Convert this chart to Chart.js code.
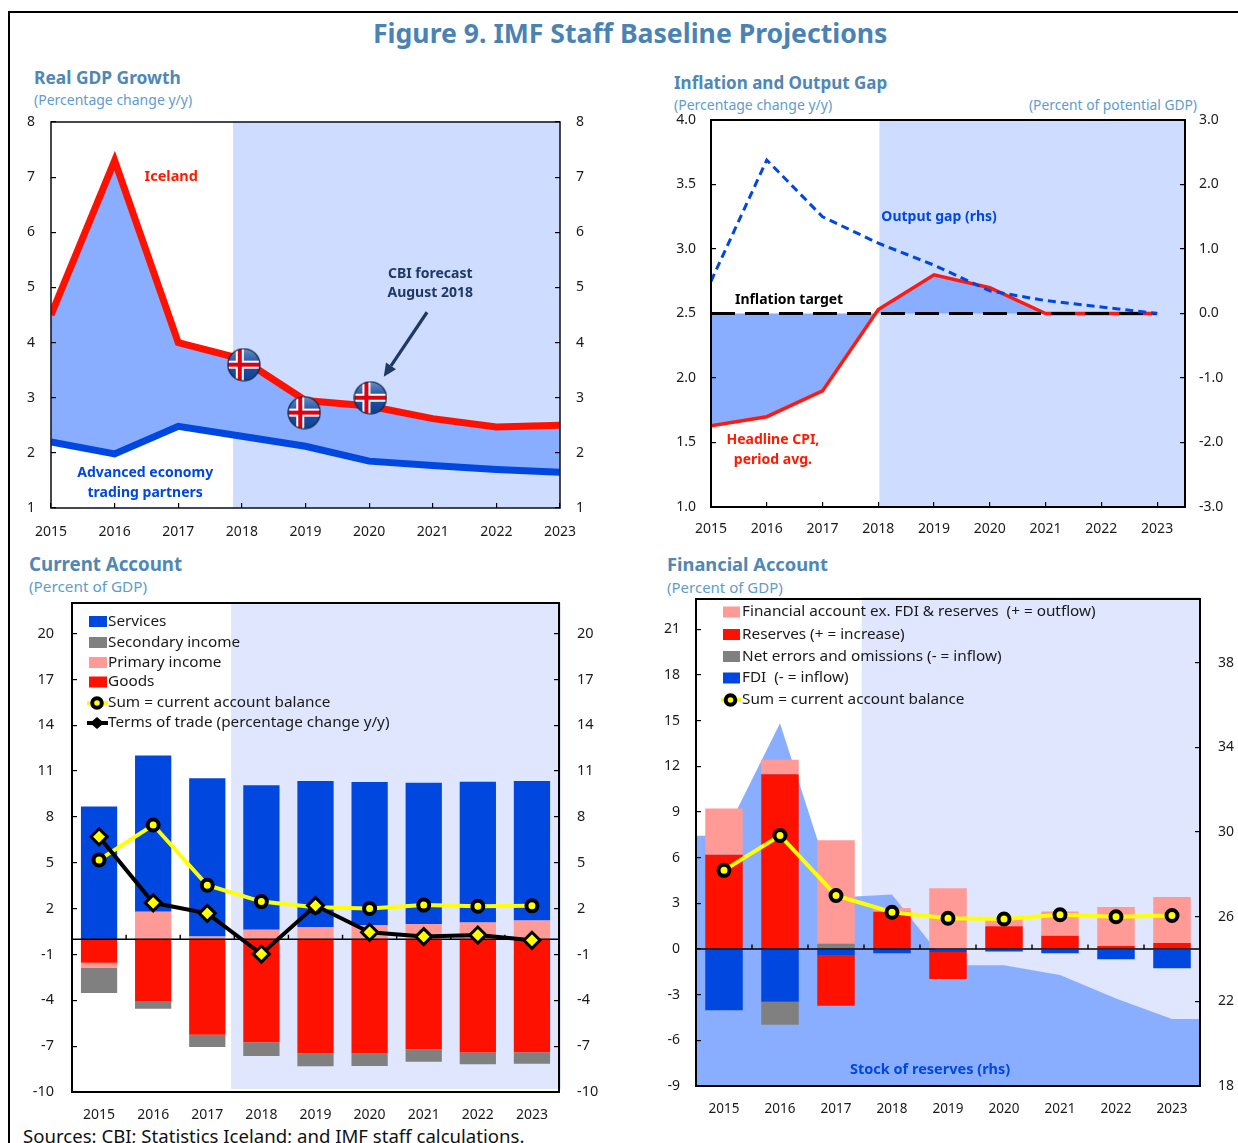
<!DOCTYPE html>
<html><head><meta charset="utf-8">
<script src="https://cdn.jsdelivr.net/npm/chart.js@4"></script>
<style>
html,body{margin:0;padding:0;background:#fff;width:1238px;height:1143px;overflow:hidden}
body{position:relative;font-family:"Noto Sans",sans-serif}
canvas{position:absolute}
.frame{position:absolute;left:8px;top:11px;width:1240px;height:1200px;border-left:2px solid #000;border-top:2px solid #000}
.t{position:absolute;white-space:nowrap;line-height:1;transform:translateY(-50%)}
.main{font-size:26.6px;font-weight:700;color:#4a83b3;left:373px;top:33px}
.h{font-weight:700;color:#4f87b5}
.s{color:#5f9ccc}
.src{font-size:18.6px;color:#111;left:23px;top:1136px}
</style></head><body>
<div class="frame"></div>
<div class="t main">Figure 9. IMF Staff Baseline Projections</div>
<div class="t h" style="left:34px;top:78px;font-size:17.4px">Real GDP Growth</div>
<div class="t s" style="left:34px;top:100px;font-size:14px">(Percentage change y/y)</div>
<div class="t h" style="left:674px;top:82px;font-size:17px">Inflation and Output Gap</div>
<div class="t s" style="left:674px;top:105px;font-size:14px">(Percentage change y/y)</div>
<div class="t s" style="right:41px;top:105px;font-size:13.8px">(Percent of potential GDP)</div>
<div class="t h" style="left:29px;top:564px;font-size:18.7px">Current Account</div>
<div class="t s" style="left:29px;top:587px;font-size:15.3px">(Percent of GDP)</div>
<div class="t h" style="left:667px;top:564px;font-size:18.3px">Financial Account</div>
<div class="t s" style="left:667px;top:587px;font-size:15px">(Percent of GDP)</div>
<div class="t src">Sources: CBI; Statistics Iceland; and IMF staff calculations.</div>
<canvas id="c1"></canvas><canvas id="c2"></canvas><canvas id="c3"></canvas><canvas id="c4"></canvas>
<script>
// ---------- data ----------
const years = [2015,2016,2017,2018,2019,2020,2021,2022,2023];
const yearLabels = ["2015","2016","2017","2018","2019","2020","2021","2022","2023"];

const gdpIceland = [4.5,7.3,4.0,3.7,2.95,2.85,2.62,2.47,2.5];
const gdpPartners = [2.2,1.98,2.48,2.3,2.12,1.85,1.77,1.7,1.65];
const cbiYears = [2018.03,2018.98,2020.02];
const cbiForecast = [3.6,2.73,3.0];
const gdpTicks = [1,2,3,4,5,6,7,8];

const cpi = [1.63,1.7,1.9,2.53,2.8,2.7,2.5,2.5,2.5];
const inflationTarget = [2.5,2.5,2.5,2.5,2.5,2.5,2.5,2.5,2.5];
const outputGap = [0.5,2.38,1.5,1.09,0.75,0.35,0.2,0.1,0.0];
const inflTicks = [1,1.5,2,2.5,3,3.5,4];
const gapTicks = [-3,-2,-1,0,1,2,3];

const caServices = [8.69,10.23,10.36,9.46,9.55,9.36,9.24,9.21,9.13];
const caSecondary = [-1.66,-0.5,-0.8,-0.9,-0.85,-0.83,-0.82,-0.77,-0.75];
const caPrimary = [-0.32,1.79,0.17,0.62,0.8,0.92,0.99,1.09,1.22];
const caGoods = [-1.54,-4.05,-6.26,-6.75,-7.47,-7.47,-7.2,-7.42,-7.4];
const caSum = [5.19,7.47,3.53,2.46,2.09,2.01,2.23,2.16,2.18];
const termsOfTrade = [6.7,2.38,1.69,-0.97,2.2,0.45,0.17,0.27,-0.07];
const caTicks = [-10,-7,-4,-1,2,5,8,11,14,17,20];
const caLegend = ["Services","Secondary income","Primary income","Goods","Sum = current account balance","Terms of trade (percentage change y/y)"];

const faOther = [3.05,0.95,6.79,0.25,3.99,0.5,1.6,2.57,3.02];
const faReserves = [6.19,11.48,-3.32,2.45,-1.77,1.5,0.87,0.2,0.4];
const faErrors = [0,-1.5,0.35,0,0,0,0,0,0];
const faFdi = [-4.02,-3.47,-0.4,-0.27,-0.2,-0.17,-0.27,-0.67,-1.27];
const faSum = [5.17,7.46,3.52,2.42,2.02,1.97,2.25,2.12,2.2];
const reserveYears = [2014.5,2015,2016,2017,2018,2019,2020,2021,2022,2023,2023.5];
const reserveStock = [29.82,29.82,35.13,26.9,27.05,23.7,23.7,23.24,22.13,21.17,21.17];
const faTicks = [-9,-6,-3,0,3,6,9,12,15,18,21];
const stockTicks = [18,22,26,30,34,38];
const faLegend = ["Financial account ex. FDI & reserves  (+ = outflow)","Reserves (+ = increase)","Net errors and omissions (- = inflow)","FDI  (- = inflow)","Sum = current account balance"];

// ---------- styles ----------
const FONT = '"Noto Sans", sans-serif';
const RED='#ff1100', BLUE='#0047e0', PINK='#ff9a96', GREY='#808080', AREA='#8aaeff', YEL='#ffff00';
const INK='#1a1a1a', NAVY='#1f3864', SHADE_A='#cddcff', SHADE_B='#dfe6fd';
Chart.defaults.font.family = FONT;
Chart.defaults.color = INK;

function flag(){
  const c=document.createElement('canvas'); c.width=34;c.height=34;
  const g=c.getContext('2d');
  g.save(); g.beginPath(); g.arc(17,17,16,0,Math.PI*2); g.clip();
  const gr=g.createLinearGradient(0,0,0,34); gr.addColorStop(0,'#6f8fc4'); gr.addColorStop(.45,'#1e55a8'); gr.addColorStop(1,'#0f3f8f');
  g.fillStyle=gr; g.fillRect(0,0,34,34);
  g.fillStyle='#fff'; g.fillRect(0,13,34,8); g.fillRect(9,0,8,34);
  g.fillStyle='#e00010'; g.fillRect(0,15,34,4); g.fillRect(11,0,4,34);
  g.restore();
  g.beginPath(); g.arc(17,17,16,0,Math.PI*2); g.strokeStyle='#0b1f40'; g.lineWidth=1.2; g.stroke();
  return c;
}

// ---------- plugins ----------
const shadePlugin={id:'shade',beforeDatasetsDraw(ch,a,o){
  const x=ch.scales[o.xScale||'x'],y=ch.scales.y,A=ch.chartArea,c=ch.ctx;
  const x0=x.getPixelForValue(o.from), t=A.top-(o.padTop||0), b=o.bottom!==undefined?y.getPixelForValue(o.bottom):A.bottom;
  c.save();c.fillStyle=o.color;c.fillRect(x0,t,A.right+(o.padRight||0)-x0,b-t);c.restore();
}};
const framePlugin={id:'frame',afterDatasetsDraw(ch,a,o){
  const A=ch.chartArea,c=ch.ctx;c.save();c.strokeStyle=o.color||'#000';c.lineWidth=o.width||2;
  c.strokeRect(A.left,A.top,A.right-A.left,A.bottom-A.top);c.restore();
}};
const notesPlugin={id:'notes',afterDatasetsDraw(ch,a,o){
  const c=ch.ctx;c.save();c.textAlign='center';c.textBaseline='middle';
  (o.items||[]).forEach(n=>{
    c.font='700 '+n.size+'px '+FONT;c.fillStyle=n.color;
    c.fillText(n.text,ch.scales[n.xs||'x'].getPixelForValue(n.x),ch.scales.y.getPixelForValue(n.y));
  });
  if(o.arrow){
    const [x1,y1,x2,y2]=o.arrow,X=ch.scales.x,Y=ch.scales.y;
    const px1=X.getPixelForValue(x1),py1=Y.getPixelForValue(y1),px2=X.getPixelForValue(x2),py2=Y.getPixelForValue(y2);
    const ang=Math.atan2(py2-py1,px2-px1),L=13,W=6;
    const bx=px2-L*Math.cos(ang),by=py2-L*Math.sin(ang);
    c.strokeStyle=NAVY;c.fillStyle=NAVY;c.lineWidth=3.2;
    c.beginPath();c.moveTo(px1,py1);c.lineTo(bx,by);c.stroke();
    c.beginPath();c.moveTo(px2,py2);c.lineTo(bx-W*Math.sin(ang),by+W*Math.cos(ang));c.lineTo(bx+W*Math.sin(ang),by-W*Math.cos(ang));c.closePath();c.fill();
  }
  c.restore();
}};
const zeroPlugin={id:'zeroLine',beforeDatasetDraw(ch,a,o){
  if(a.index!==o.before) return;
  const c=ch.ctx,X=ch.scales.x,Y=ch.scales.y,A=ch.chartArea,y0=Y.getPixelForValue(0);
  c.save();c.strokeStyle='#000';c.lineWidth=1.4;c.beginPath();c.moveTo(A.left,y0);c.lineTo(A.right,y0);
  for(let i=0;i<X.ticks.length-1;i++){const px=X.getPixelForValue(i+.5);c.moveTo(px,y0);c.lineTo(px,y0-4.5);}
  c.stroke();c.restore();
}};
const legendPlugin={id:'sideLegend',afterDatasetsDraw(ch,a,o){
  const c=ch.ctx,cv=ch.canvas,ox=parseFloat(cv.style.left),oy=parseFloat(cv.style.top);
  c.save();c.font=o.size+'px '+FONT;c.textBaseline='middle';c.textAlign='left';
  o.rows.forEach((r,i)=>{
    const y=o.ys[i]-oy,sx=o.swatchX-ox;
    if(r.kind==='box'){c.fillStyle=r.color;c.fillRect(sx,y-5.5,o.swatchW,11);}
    else{
      c.strokeStyle=r.color;c.lineWidth=r.lw;c.beginPath();c.moveTo(sx-2,y);c.lineTo(sx+o.swatchW+1,y);c.stroke();
      const mx=sx+o.swatchW/2-1;
      if(r.kind==='sum'){
        c.beginPath();c.arc(mx,y,4.8,0,Math.PI*2);c.fillStyle=YEL;c.fill();c.strokeStyle='#000';c.lineWidth=4;c.stroke();
      }else{
        c.beginPath();c.moveTo(mx-7,y);c.lineTo(mx,y-6);c.lineTo(mx+7,y);c.lineTo(mx,y+6);c.closePath();c.fillStyle='#000';c.fill();
      }
    }
    c.fillStyle=INK;c.fillText(o.labels[i],o.textX-ox,y);
  });
  c.restore();
}};

// ---------- layout helper ----------
const PAD={l:55,r:55,t:16,b:50};
function place(id,box){
  const cv=document.getElementById(id);
  const w=box.r-box.l+PAD.l+PAD.r,h=box.b-box.t+PAD.t+PAD.b;
  cv.width=w;cv.height=h;cv.style.width=w+'px';cv.style.height=h+'px';
  cv.style.left=(box.l-PAD.l)+'px';cv.style.top=(box.t-PAD.t)+'px';
  return cv;
}
function yAxis(pos,min,max,ticks,fmt,gap,size){
  return {type:'linear',position:pos,min,max,
    afterBuildTicks(s){s.ticks=ticks.map(v=>({value:v}));},
    afterFit(s){s.width=pos==='left'?PAD.l:PAD.r;s.paddingTop=0;s.paddingBottom=0;},
    border:{display:false},
    grid:{drawOnChartArea:false,drawTicks:true,tickLength:-5,color:'#000',lineWidth:1.2,z:1},
    ticks:{padding:gap+5,font:{size},color:INK,callback:fmt}};
}
function base(opts,plugs){
  return {responsive:false,animation:false,devicePixelRatio:1,
    layout:{padding:{top:PAD.t,left:0,right:0,bottom:0}},
    plugins:Object.assign({legend:{display:false},tooltip:{enabled:false}},plugs),
    scales:opts};
}
const plain=v=>String(v), oneDec=v=>v.toFixed(1);
function xLinear(min,max,labelPad){
  return {type:'linear',min,max,
    afterBuildTicks(s){s.ticks=years.map(v=>({value:v}));},
    afterFit(s){s.height=PAD.b;s.paddingLeft=0;s.paddingRight=0;},
    border:{display:false},
    grid:{drawOnChartArea:false,drawTicks:true,tickLength:-5,color:'#000',lineWidth:1.2,z:1},
    ticks:{padding:labelPad+5,autoSkip:false,maxRotation:0,font:{size:14},color:INK,callback:plain}};
}
function xCat(labelPad,size){
  return {type:'category',labels:yearLabels,stacked:true,offset:true,
    afterFit(s){s.height=PAD.b;s.paddingLeft=0;s.paddingRight=0;},
    border:{display:false},
    grid:{display:false,drawTicks:false},
    ticks:{padding:labelPad,autoSkip:false,maxRotation:0,font:{size},color:INK}};
}
const pts=(xs,ys)=>xs.map((x,i)=>({x,y:ys[i]}));

// ---------- Real GDP growth ----------
new Chart(place('c1',{l:51,r:560,t:120,b:508}),{type:'line',
  data:{datasets:[
    {label:'CBI forecast',data:pts(cbiYears,cbiForecast),showLine:false,pointStyle:flag(),pointRadius:17,order:0},
    {label:'Iceland',data:pts(years,gdpIceland),borderColor:RED,borderWidth:7,pointRadius:0,tension:0,clip:0,
      fill:{target:2},backgroundColor:AREA,order:2},
    {label:'Advanced economy trading partners',data:pts(years,gdpPartners),borderColor:BLUE,borderWidth:7,pointRadius:0,tension:0,clip:0,order:1}
  ]},
  options:base({x:xLinear(2015,2023,16),y:yAxis('left',1,8,gdpTicks,plain,16,14),yr:yAxis('right',1,8,gdpTicks,plain,16,14)},{
    shade:{from:2017.86,color:SHADE_A},frame:{width:1.6,color:'#1a1a2a'},
    notes:{items:[
      {text:'Iceland',x:2016.89,y:7.0,size:14.5,color:'#ff1a00'},
      {text:'CBI forecast',x:2020.96,y:5.24,size:14,color:NAVY},
      {text:'August 2018',x:2020.96,y:4.9,size:14,color:NAVY},
      {text:'Advanced economy',x:2016.48,y:1.63,size:14,color:BLUE},
      {text:'trading partners',x:2016.48,y:1.27,size:14,color:BLUE}],
      arrow:[2020.91,4.55,2020.23,3.38]}
  }),
  plugins:[shadePlugin,framePlugin,notesPlugin]});

// ---------- Inflation and output gap ----------
new Chart(place('c2',{l:711,r:1185,t:120,b:507}),{type:'line',
  data:{datasets:[
    {label:'Output gap (rhs)',data:pts(years,outputGap),yAxisID:'yr',borderColor:BLUE,borderWidth:3,borderDash:[8,5],pointRadius:0,tension:0,order:0},
    {label:'Inflation target',data:pts(years,inflationTarget),borderColor:'#000',borderWidth:3,borderDash:[24,10],pointRadius:0,tension:0,order:1},
    {label:'Headline CPI, period avg.',data:pts(years,cpi),borderColor:'#ff1a10',borderWidth:3.5,pointRadius:0,tension:0,clip:0,
      fill:{value:2.5},backgroundColor:AREA,order:2}
  ]},
  options:base({x:xLinear(2015,2023.5,14),y:yAxis('left',1,4,inflTicks,oneDec,15,14),yr:yAxis('right',-3,3,gapTicks,oneDec,14,14)},{
    shade:{from:2018.02,color:SHADE_A},frame:{width:2,color:'#000'},
    notes:{items:[
      {text:'Output gap (rhs)',x:2019.09,y:3.25,size:14,color:BLUE},
      {text:'Inflation target',x:2016.4,y:2.605,size:14,color:'#000'},
      {text:'Headline CPI,',x:2016.11,y:1.52,size:14,color:'#ff1a00'},
      {text:'period avg.',x:2016.11,y:1.364,size:14,color:'#ff1a00'}]}
  }),
  plugins:[shadePlugin,framePlugin,notesPlugin]});

// ---------- Current account ----------
const bar=(label,data,color,order)=>({type:'bar',label,data,backgroundColor:color,borderWidth:0,grouped:false,
  categoryPercentage:1,barPercentage:0.67,xAxisID:'x',yAxisID:'y',stack:'bars',order});
new Chart(place('c3',{l:72,r:559,t:603,b:1092}),{type:'bar',
  data:{labels:yearLabels,datasets:[
    {type:'line',label:'Terms of trade',data:termsOfTrade,xAxisID:'x',yAxisID:'y',stack:'tot',borderColor:'#000',borderWidth:4,tension:0,
      pointStyle:'rectRot',pointRadius:8,pointBackgroundColor:YEL,pointBorderColor:'#000',pointBorderWidth:3,order:0},
    {type:'line',label:'Sum',data:caSum,xAxisID:'x',yAxisID:'y',stack:'sum',borderColor:YEL,borderWidth:4,tension:0,
      pointRadius:5.5,pointBackgroundColor:YEL,pointBorderColor:'#000',pointBorderWidth:4,order:1},
    bar('Goods',caGoods,RED,2),bar('Primary income',caPrimary,PINK,3),bar('Secondary income',caSecondary,GREY,4),bar('Services',caServices,BLUE,5)
  ]},
  options:base({x:xCat(15,14),
    y:Object.assign(yAxis('left',-10,22,caTicks,plain,18,14.5),{stacked:true}),
    yr:yAxis('right',-10,22,caTicks,plain,18,14.5)},{
    shade:{from:2.44,color:SHADE_B,bottom:-9.8,padRight:2},frame:{width:2,color:'#000'},
    zeroLine:{before:1},
    sideLegend:{labels:caLegend,size:15.3,swatchX:89,swatchW:18,textX:108,ys:[621.5,642.5,662.5,682,703,723],
      rows:[{kind:'box',color:BLUE},{kind:'box',color:GREY},{kind:'box',color:PINK},{kind:'box',color:RED},
        {kind:'sum',color:YEL,lw:4},{kind:'dia',color:'#000',lw:4}]}
  }),
  plugins:[shadePlugin,zeroPlugin,framePlugin,legendPlugin]});

// ---------- Financial account ----------
new Chart(place('c4',{l:696,r:1200,t:599,b:1086}),{type:'bar',
  data:{labels:yearLabels,datasets:[
    {type:'line',label:'Sum',data:faSum,xAxisID:'x',yAxisID:'y',stack:'sum',borderColor:YEL,borderWidth:4,tension:0,
      pointRadius:5.5,pointBackgroundColor:YEL,pointBorderColor:'#000',pointBorderWidth:4,order:0},
    bar('FDI',faFdi,BLUE,1),bar('Net errors and omissions',faErrors,GREY,2),bar('Reserves',faReserves,RED,3),bar('Financial account ex. FDI & reserves',faOther,PINK,4),
    {type:'line',label:'Stock of reserves (rhs)',data:pts(reserveYears,reserveStock),xAxisID:'xa',yAxisID:'yr',stack:'area',borderWidth:0,pointRadius:0,tension:0,
      fill:'start',backgroundColor:AREA,order:6}
  ]},
  options:base({x:xCat(15,13.5),
    xa:{type:'linear',display:false,offset:false,min:2014.5,max:2023.5},
    y:Object.assign(yAxis('left',-9,23,faTicks,plain,16,14),{stacked:true}),
    yr:yAxis('right',18,41,stockTicks,plain,18,14)},{
    shade:{from:2.46,color:SHADE_B,padTop:2},frame:{width:2,color:'#000'},
    zeroLine:{before:0},
    notes:{items:[{text:'Stock of reserves (rhs)',x:3.68,y:-7.93,size:14.5,color:BLUE}]},
    sideLegend:{labels:faLegend,size:15.3,swatchX:723,swatchW:17,textX:742,ys:[612,634.5,656.5,678,700],
      rows:[{kind:'box',color:PINK},{kind:'box',color:RED},{kind:'box',color:GREY},{kind:'box',color:BLUE},{kind:'sum',color:YEL,lw:4}]}
  }),
  plugins:[shadePlugin,zeroPlugin,framePlugin,notesPlugin,legendPlugin]});
</script>
</body></html>
